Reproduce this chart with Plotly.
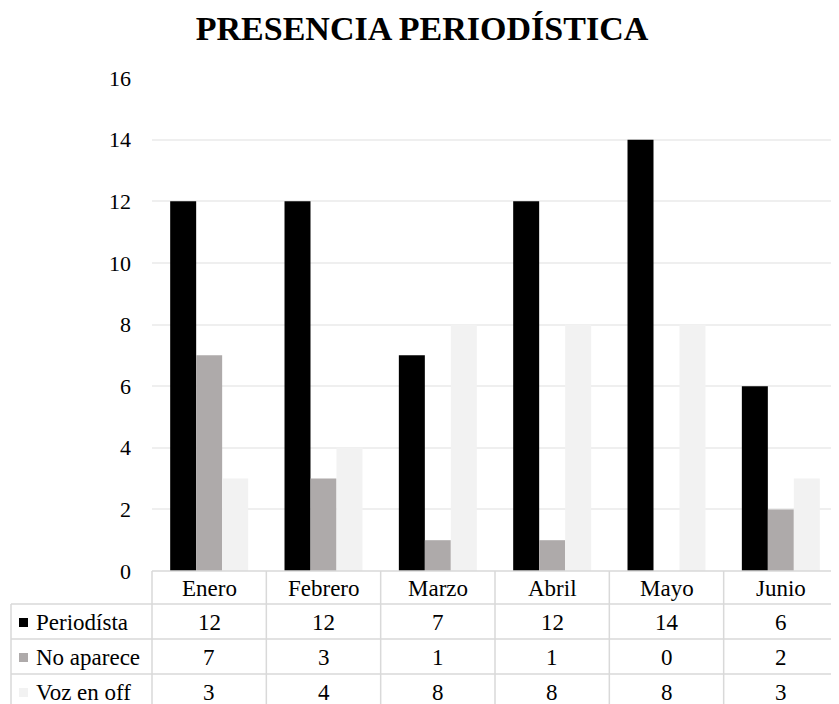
import plotly.graph_objects as go

months = ["Enero", "Febrero", "Marzo", "Abril", "Mayo", "Junio"]
series_names = ["Periodísta", "No aparece", "Voz en off"]
periodista = [12, 12, 7, 12, 14, 6]
no_aparece = [7, 3, 1, 1, 0, 2]
voz_en_off = [3, 4, 8, 8, 8, 3]
colors = ["#000000", "#AEAAAA", "#F2F2F2"]
y_ticks = [0, 2, 4, 6, 8, 10, 12, 14, 16]

series = [periodista, no_aparece, voz_en_off]
FONT = "Liberation Serif, Times New Roman, serif"

# page body has an 8px margin; work in reference pixel coords and compensate
OFF = 8
REF_W, REF_H = 839, 704
W, H = REF_W - OFF, REF_H - OFF
PL, PR, PT, PB = 152, 838, 78, 571  # plot area in reference pixels
pw = PR - PL
ph = PB - PT

def px(x):
    return (x - PL) / pw

def py(y):
    return (PB - y) / ph

fig = go.Figure()
for name, vals, c in zip(series_names, series, colors):
    fig.add_trace(go.Bar(x=months, y=vals, name=name, marker=dict(color=c, line=dict(width=0)),
                         showlegend=False))

shapes = []
annotations = []
line_c = "#D9D9D9"
lw = 1.5
row_lines = [604, 639, 674]
row_centers = [622, 657, 692]
TS = 23
for i in range(len(months) + 1):
    xp = px(PL + i * pw / len(months))
    shapes.append(dict(type="line", xref="paper", yref="paper", x0=xp, x1=xp, y0=py(PB), y1=py(REF_H + 5),
                       line=dict(color=line_c, width=lw)))
shapes.append(dict(type="line", xref="paper", yref="paper", x0=px(11), x1=px(11), y0=py(row_lines[0]),
                   y1=py(REF_H + 5), line=dict(color=line_c, width=lw)))
shapes.append(dict(type="line", xref="paper", yref="paper", x0=0, x1=1, y0=py(PB), y1=py(PB),
                   line=dict(color=line_c, width=lw)))
for yl in row_lines:
    shapes.append(dict(type="line", xref="paper", yref="paper", x0=px(11), x1=1, y0=py(yl), y1=py(yl),
                       line=dict(color=line_c, width=lw)))

for m in months:
    annotations.append(dict(x=m, xref="x", y=py(588), yref="paper", text=m, showarrow=False,
                            font=dict(family=FONT, size=TS, color="#000"), xanchor="center", yanchor="middle"))
for r, (name, vals, c) in enumerate(zip(series_names, series, colors)):
    yc = row_centers[r]
    shapes.append(dict(type="rect", xref="paper", yref="paper", x0=px(19), x1=px(28), y0=py(yc - 4),
                       y1=py(yc + 5), fillcolor=c, line=dict(width=0)))
    annotations.append(dict(x=px(34), xref="paper", y=py(yc), yref="paper", text=name, showarrow=False,
                            font=dict(family=FONT, size=TS, color="#000"), xanchor="left", yanchor="middle"))
    for m, v in zip(months, vals):
        annotations.append(dict(x=m, xref="x", y=py(yc), yref="paper", text=str(v), showarrow=False,
                                font=dict(family=FONT, size=TS, color="#000"), xanchor="center",
                                yanchor="middle"))

fig.update_layout(
    width=W, height=H,
    margin=dict(l=PL - OFF, r=W - (PR - OFF), t=PT - OFF, b=H - (PB - OFF)),
    paper_bgcolor="white", plot_bgcolor="white",
    barmode="group", bargap=0.318, bargroupgap=0,
    title=dict(text="<b>PRESENCIA PERIODÍSTICA</b>", x=(422 - OFF) / W, xanchor="center",
               y=1 - (28 - OFF) / H, yanchor="middle",
               font=dict(family=FONT, size=34, color="#000")),
    xaxis=dict(showticklabels=False, showgrid=False, zeroline=False, showline=False, ticks=""),
    yaxis=dict(range=[0, 16], tickvals=y_ticks, showgrid=True, gridcolor="#EFEFEF", gridwidth=1.5,
               zeroline=False, showline=False, ticks="", ticklabelstandoff=20,
               tickfont=dict(family=FONT, size=22, color="#000")),
    shapes=shapes, annotations=annotations,
)

fig.write_html("out.html")
